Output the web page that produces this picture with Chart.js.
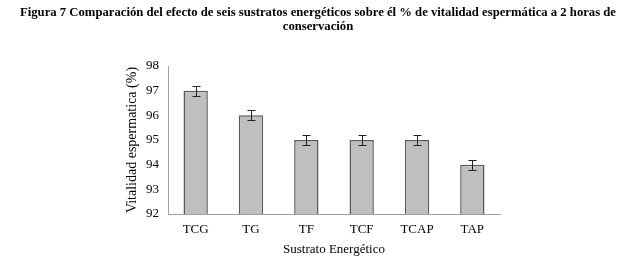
<!DOCTYPE html>
<html><head><meta charset="utf-8">
<script src="https://cdn.jsdelivr.net/npm/chart.js@4/dist/chart.umd.min.js"></script>
<style>
html,body{margin:0;padding:0;background:#fff}
#wrap{position:relative;width:636px;height:256px}
#t{position:absolute;left:0;top:5px;width:636px;text-align:center;font-family:'Liberation Serif',serif;font-weight:bold;font-size:12.7px;line-height:14px;color:#000}
canvas{position:absolute;left:0;top:0}
</style>
</head><body><div id="wrap"><canvas id="c" width="636" height="256"></canvas><div id="t"></div></div>
<script>
const categories = ["TCG","TG","TF","TCF","TCAP","TAP"];
const values = [97, 96, 95, 95, 95, 94];
const errors = [0.2, 0.2, 0.2, 0.2, 0.2, 0.2];
const yTicks = [92, 93, 94, 95, 96, 97, 98];
const titleLines = ["Figura 7 Comparación del efecto de seis sustratos energéticos sobre él % de vitalidad espermática a 2 horas de","conservación"];
const xTitle = "Sustrato Energético";
const yTitle = "Vitalidad espermatica (%)";

const tEl = document.getElementById('t');
titleLines.forEach((line, i) => { if (i) tEl.appendChild(document.createElement('br')); tEl.appendChild(document.createTextNode(line)); });

const errorBars = {
  id: 'errorBars',
  afterDatasetsDraw(chart) {
    const ctx = chart.ctx, ys = chart.scales.y;
    const meta = chart.getDatasetMeta(0);
    ctx.save();
    ctx.strokeStyle = '#222';
    ctx.lineWidth = 1;
    meta.data.forEach((bar, i) => {
      const x = Math.round(bar.x) + 0.5;
      const yt = Math.round(ys.getPixelForValue(values[i] + errors[i])) + 0.5;
      const yb = Math.round(ys.getPixelForValue(values[i] - errors[i])) + 0.5;
      ctx.beginPath();
      ctx.moveTo(x, yt); ctx.lineTo(x, yb);
      ctx.moveTo(x - 4, yt); ctx.lineTo(x + 4, yt);
      ctx.moveTo(x - 4, yb); ctx.lineTo(x + 4, yb);
      ctx.stroke();
    });
    ctx.restore();
  }
};

new Chart(document.getElementById('c'), {
  type: 'bar',
  data: {
    labels: categories,
    datasets: [{
      data: values,
      backgroundColor: '#bfbfbf',
      borderColor: '#5a5a5a',
      borderWidth: 1.5,
      borderSkipped: 'bottom',
      categoryPercentage: 1,
      barPercentage: 0.44
    }]
  },
  options: {
    responsive: false,
    animation: false,
    devicePixelRatio: 1,
    layout: { padding: { left: 124, right: 136, top: 66, bottom: 0 } },
    plugins: {
      legend: { display: false },
      tooltip: { enabled: false },
      title: { display: false }
    },
    scales: {
      x: {
        afterFit(scale) { scale.height = 42; },
        grid: { display: false, drawTicks: false },
        border: { color: '#a0a0a0', width: 1 },
        ticks: { color: '#000', font: { family: 'Liberation Serif', size: 13 }, padding: 8 },
        title: { display: true, text: xTitle, color: '#000', font: { family: 'Liberation Serif', size: 13 }, padding: { top: 0, bottom: -1 } }
      },
      y: {
        min: 92, max: 98,
        afterBuildTicks(scale) { scale.ticks = yTicks.map(v => ({ value: v })); },
        afterFit(scale) { scale.width = 44; },
        grid: { display: false, drawTicks: false },
        border: { color: '#a0a0a0', width: 1 },
        ticks: { color: '#000', font: { family: 'Liberation Serif', size: 13 }, padding: 9 },
        title: { display: true, text: yTitle, color: '#000', font: { family: 'Liberation Serif', size: 14 }, padding: 0 }
      }
    }
  },
  plugins: [errorBars]
});
</script>
</body></html>
